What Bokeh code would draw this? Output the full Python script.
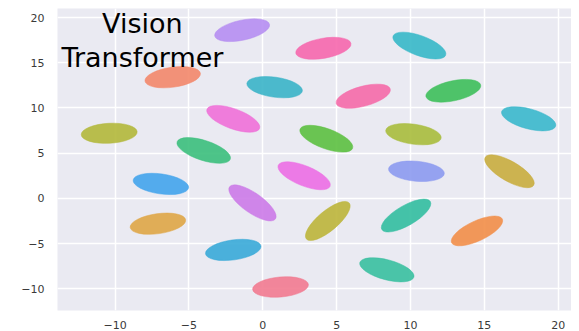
from bokeh.plotting import figure
from bokeh.models import ColumnDataSource, Label, FixedTicker, Range1d
from bokeh.embed import file_html
from bokeh.resources import INLINE
import math

# cluster centres (t-SNE coordinates)
cx = [-1.4, 4.1, 10.6, -6.1, 0.8, 6.8, 12.9, 18.0, -2.0, -10.4, -4.0, 4.3, 10.2,
      16.7, 10.4, 2.8, -6.9, -0.7, -7.1, 4.4, 9.7, 14.5, -2.0, 8.4, 1.2]
cy = [18.6, 16.6, 16.9, 13.4, 12.3, 11.3, 11.9, 8.8, 8.8, 7.2, 5.3, 6.6, 7.1,
      3.0, 3.0, 2.5, 1.6, -0.5, -2.8, -2.5, -1.9, -3.6, -5.7, -7.9, -9.8]
colors = ["#b68ef2", "#f667ad", "#36b8c8", "#f3876a", "#3ab4c8", "#f56aa8", "#3dbf5a",
          "#3ab8cc", "#f070d8", "#b2b83a", "#3bbf7c", "#5cc040", "#a8bc3c", "#c9ad3e",
          "#8c9af0", "#ec6ee4", "#42a4ec", "#cc7ae8", "#dfa646", "#bcb53a", "#32bea0",
          "#f28e48", "#38aad8", "#38c0a0", "#f27a90"]
# orientation of each cluster (degrees, counter-clockwise)
tilt = [12, 10, -20, 8, -8, 15, 12, -15, -20, 3, -18, -20, -8,
        -30, -5, -22, -8, -35, 8, 40, 30, 25, 8, -15, 5]

x_ticks = [-10, -5, 0, 5, 10, 15, 20]
y_ticks = [-10, -5, 0, 5, 10, 15, 20]

src = ColumnDataSource(dict(x=cx, y=cy, c=colors, a=[math.radians(t) for t in tilt]))

p = figure(width=571, height=331, output_backend="svg", toolbar_location=None,
           x_range=Range1d(-13.9, 20.9), y_range=Range1d(-12.4, 21.0),
           min_border_left=57, min_border_right=0, min_border_top=8, min_border_bottom=19)
p.background_fill_color = "#eaeaf2"
p.border_fill_color = "white"
p.outline_line_color = None

p.ellipse(x="x", y="y", width=56, height=20, angle="a", source=src,
          width_units="screen", height_units="screen",
          fill_color="c", fill_alpha=0.9, line_color="c", line_alpha=0.5, line_width=1)

for ax in (p.xaxis[0], p.yaxis[0]):
    ax.axis_line_color = None
    ax.major_tick_line_color = None
    ax.minor_tick_line_color = None
    ax.major_label_text_font = "DejaVu Sans"
    ax.major_label_text_font_size = "11px"
    ax.major_label_text_color = "#3a3a3a"
p.xaxis[0].ticker = FixedTicker(ticks=x_ticks)
p.yaxis[0].ticker = FixedTicker(ticks=y_ticks)
p.xaxis[0].major_label_standoff = 4
p.yaxis[0].major_label_standoff = 7

p.xgrid[0].ticker = FixedTicker(ticks=x_ticks)
p.ygrid[0].ticker = FixedTicker(ticks=y_ticks)
p.grid.grid_line_color = "white"
p.grid.grid_line_width = 1.5

lbl = Label(x=-8.15, y=21.05, text="Vision\nTransformer", text_align="center",
            text_baseline="top", text_font="DejaVu Sans", text_font_size="27px",
            text_color="black", text_line_height=1.1)
p.add_layout(lbl)

open("out.html", "w").write(file_html(p, INLINE))
